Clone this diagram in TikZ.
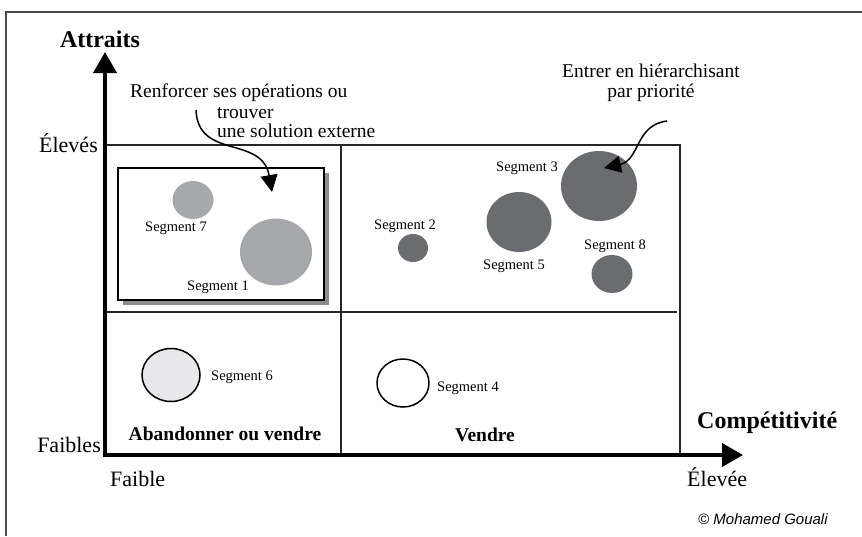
\documentclass[tikz,border=0pt]{standalone}
\usepackage{fontspec}
\setmainfont{Liberation Serif}
\newfontfamily\creditfont{Liberation Sans}
\usepackage{xcolor}
\usetikzlibrary{positioning,arrows.meta,shapes.geometric}

\definecolor{segpale}{HTML}{A7A8AB}
\definecolor{segdark}{HTML}{6B6C6F}
\definecolor{seglight}{HTML}{E8E8EA}
\definecolor{shadowgray}{HTML}{8C8D90}
\definecolor{framegray}{HTML}{4A4A4A}

\tikzset{
  axisline/.style={line width=4pt, -{Triangle[length=21pt,width=23pt]}},
  gridline/.style={line width=1.8pt, black!85},
  seg/.style={ellipse, inner sep=0pt},
  seglabel/.style={font=\fontsize{14.5}{16}\selectfont, inner sep=0pt},
  axislabel/.style={font=\fontsize{22}{24}\selectfont, inner sep=0pt},
  axistitle/.style={font=\bfseries\fontsize{24}{26}\selectfont, inner sep=0pt},
  quadlabel/.style={font=\bfseries\fontsize{19.5}{22}\selectfont, inner sep=0pt},
  note/.style={font=\fontsize{19.5}{22}\selectfont, inner sep=0pt},
  pointer/.style={line width=1.5pt, -{Triangle[length=17pt,width=17pt]}},
}

\begin{document}
\begin{tikzpicture}[x=1pt, y=-1pt]
    \useasboundingbox (0,0) rectangle (862,536);

    % Frame
    \draw[framegray, line width=1.5pt] (6,536) -- (6,12) -- (862,12);

    % Quadrants
    \draw[gridline] (105,145) -- (680,145) -- (680,455);
    \draw[gridline] (341,145) -- (341,455);
    \draw[gridline] (105,312) -- (677,312);

    % Axes
    \coordinate (origin) at (105,455);
    \coordinate (ytip) at (105,52);
    \coordinate (xtip) at (743,455);
    \draw[axisline] (105,457) -- (ytip);
    \draw[axisline] (origin) -- (xtip);

    % Axis labels
    \node[axistitle, anchor=base] (attraits) at (100,47) {Attraits};
    \node[axistitle, anchor=base west] (compet) at (697,428) {Compétitivité};
    \node[axislabel, anchor=base east] (eleves) at (98,152) {Élevés};
    \node[axislabel, anchor=base east] (faibles) at (101,452) {Faibles};
    \node[axislabel, anchor=base west] (faible) at (110,486) {Faible};
    \node[axislabel, anchor=base west] (elevee) at (687,486) {Élevée};

    % Box with shadow
    \fill[shadowgray] (123,173) rectangle (329,305);
    \draw[line width=2pt, fill=white] (118,168) rectangle (324,300);

    % Segments
    \node[seg, fill=segpale, minimum width=41pt, minimum height=38pt] (s7) at (193,200) {};
    \node[seg, fill=segpale, minimum width=72pt, minimum height=67pt] (s1) at (276,252) {};
    \node[seg, fill=segdark, minimum width=30pt, minimum height=28pt] (s2) at (413,248) {};
    \node[seg, fill=segdark, minimum width=65pt, minimum height=60pt] (s5) at (519,222) {};
    \node[seg, fill=segdark, minimum width=76pt, minimum height=70pt] (s3) at (599,186) {};
    \node[seg, fill=segdark, minimum width=41pt, minimum height=38pt] (s8) at (612,274) {};
    \node[seg, draw, line width=1.5pt, fill=seglight, minimum width=58pt, minimum height=53pt] (s6) at (171,375) {};
    \node[seg, draw, line width=1.5pt, fill=white, minimum width=52pt, minimum height=48pt] (s4) at (403,383) {};

    % Segment labels
    \node[seglabel, anchor=base] (l7) at (176,231) {Segment 7};
    \node[seglabel, anchor=base] (l1) at (218,290) {Segment 1};
    \node[seglabel, anchor=base] (l2) at (405,229) {Segment 2};
    \node[seglabel, anchor=base] (l3) at (527,171) {Segment 3};
    \node[seglabel, anchor=base] (l5) at (514,269) {Segment 5};
    \node[seglabel, anchor=base] (l8) at (615,249) {Segment 8};
    \node[seglabel, anchor=base] (l6) at (242,380) {Segment 6};
    \node[seglabel, anchor=base] (l4) at (468,391) {Segment 4};

    % Quadrant labels
    \node[quadlabel, anchor=base] (abandon) at (225,440) {Abandonner ou vendre};
    \node[quadlabel, anchor=base west] (vendre) at (455,441) {Vendre};

    % Notes
    \node[note, anchor=base west] (renf) at (130,97) {Renforcer ses opérations ou};
    \node[note, anchor=base west] (trouv) at (217,118) {trouver};
    \node[note, anchor=base west] (solut) at (217,137) {une solution externe};
    \node[note, anchor=base] (entrer) at (651,77) {Entrer en hiérarchisant};
    \node[note, anchor=base] (prio) at (651,97) {par priorité};

    % Pointers
    \coordinate (p1) at (196,110);
    \coordinate (t1) at (272,192);
    \draw[pointer] (p1) .. controls (198,160) and (262,135) .. (t1);
    \coordinate (p2) at (667,121);
    \coordinate (t2) at (604,168);
    \draw[pointer] (p2) .. controls (635,125) and (640,160) .. (t2);

    % Credit
    \node[font=\creditfont\itshape\fontsize{15}{17}\selectfont, inner sep=0pt, anchor=base west] (credit) at (698,524) {© Mohamed Gouali};
\end{tikzpicture}
\end{document}
